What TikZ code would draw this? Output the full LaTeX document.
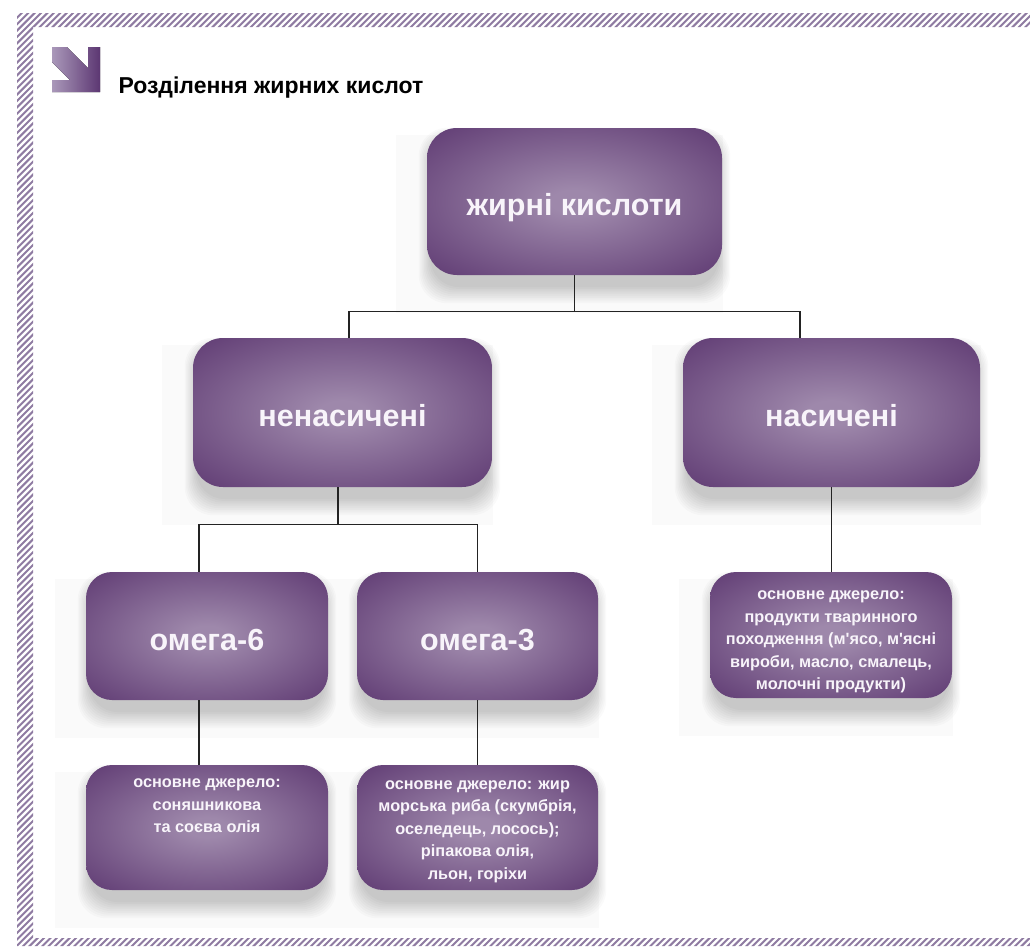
\documentclass[tikz,border=0pt]{standalone}
\usepackage{fontspec}
\setmainfont{Liberation Sans}[Ligatures=TeXOff]
\usetikzlibrary{calc}

\definecolor{boxin}{RGB}{158,136,171}
\definecolor{boxout}{RGB}{93,56,113}
\definecolor{hatchcol}{RGB}{143,123,162}
\definecolor{iconlight}{RGB}{170,152,186}
\definecolor{icondark}{RGB}{92,55,114}
\definecolor{linkcol}{RGB}{35,35,35}
\definecolor{boxtext}{RGB}{248,244,250}

% soft violet glow, light in the middle and dark towards the rim
\pgfdeclareradialshading{boxglow}{\pgfpoint{0bp}{0bp}}{%
  color(0bp)=(boxin); color(4bp)=(boxin); color(37bp)=(boxout); color(80bp)=(boxout)}

\pgfdeclarelayer{paper}
\pgfdeclarelayer{pale}
\pgfdeclarelayer{shade}
\pgfsetlayers{paper,pale,shade,main}

\tikzset{
  pbox/.style={rectangle, rounded corners=30pt, shading=boxglow,
    text=boxtext, align=center, inner sep=0pt},
  bigtext/.style={font=\bfseries\fontsize{30.5}{36}\selectfont, text height=34pt, text depth=6pt},
  smalltext/.style={font=\bfseries\fontsize{16.3}{22.5}\selectfont, text=boxtext, align=center},
  link/.style={draw=linkcol, line width=1.3pt},
  hatchline/.style={draw=hatchcol, line width=2pt},
}

% soft drop shadow and pale backdrop behind a box node
\newcommand\softshadow[1]{%
  \begin{pgfonlayer}{pale}
    \fill[black!2] ([shift={(-31,7)}]#1.north west) rectangle ([shift={(1,38)}]#1.south east);
  \end{pgfonlayer}
  \begin{pgfonlayer}{shade}
    \foreach \s in {1,...,10}{%
      \fill[black,opacity=0.019,rounded corners=28pt]
        ([shift={({-1.3*\s+5},{12-1.2*\s})}]#1.north west)
        rectangle ([shift={({1.3*\s-5},{10+1.8*\s})}]#1.south east);
    }
  \end{pgfonlayer}}

\begin{document}
\begin{tikzpicture}[x=1pt,y=-1pt]
\useasboundingbox (0,0) rectangle (1030,946);
\begin{pgfonlayer}{paper}
  \fill[white] (0,0) rectangle (1030,946);
\end{pgfonlayer}

% hatched frame
\begin{scope}
  \clip (17,13) rectangle (1030,27) (17,13) rectangle (33,946) (17,938) rectangle (1030,946);
  \foreach \a in {-960,-953.6,...,1040}{
    \draw[hatchline] (\a,950) -- ++(954,-954);
  }
\end{scope}

% heading with arrow mark
\fill[left color=iconlight, right color=icondark]
  (52,47) -- (67,47) -- (88,68) -- (88,47) -- (100,47) -- (100,92) -- (52,92)
  -- (52,80) -- (70,80) -- (52,62) -- cycle;
\node[anchor=base west, font=\bfseries\fontsize{23}{27}\selectfont] (title) at (115,93)
  {Розділення жирних кислот};

% boxes
\node[pbox, bigtext, minimum width=295pt, minimum height=147pt] (fa) at (574.5,201.5) {жирні кислоти};
\node[pbox, bigtext, minimum width=299pt, minimum height=149pt] (nen) at (342.5,412.5) {ненасичені};
\node[pbox, bigtext, minimum width=297pt, minimum height=149pt] (nas) at (831.5,412.5) {насичені};
\node[pbox, bigtext, rounded corners=26pt, minimum width=242pt, minimum height=128pt] (o6) at (207,636) {омега-6};
\node[pbox, bigtext, rounded corners=26pt, minimum width=241pt, minimum height=128pt] (o3) at (477.5,636) {омега-3};
\node[pbox, rounded corners=26pt, minimum width=242pt, minimum height=125pt] (s6) at (207,827.5) {};
\node[pbox, rounded corners=26pt, minimum width=241pt, minimum height=125pt] (s3) at (477.5,827.5) {};
\node[pbox, rounded corners=26pt, minimum width=242pt, minimum height=126pt] (sn) at (831,635) {};

% texts of the source boxes
\node[smalltext] (s6t) at (207,806)
  {основне джерело:\\соняшникова\\та соєва олія};
\node[smalltext] (s3t) at ($(s3.center)+(0,4)$)
  {основне джерело: жир\\морська риба (скумбрія,\\оселедець, лосось);\\ріпакова олія,\\льон, горіхи};
\node[smalltext] (snt) at ($(sn.center)+(0,7)$)
  {основне джерело:\\продукти тваринного\\походження (м'ясо, м'ясні\\вироби, масло, смалець,\\молочні продукти)};

\softshadow{fa}\softshadow{nen}\softshadow{nas}\softshadow{o6}
\softshadow{o3}\softshadow{s6}\softshadow{s3}\softshadow{sn}

% connectors
\draw[link] (fa.south) -- ($(fa.south)+(0,36)$) -| ($(nen.north)+(6.5,0)$);
\draw[link] ($(fa.south)+(0,36)$) -| ($(nas.north)+(-31.5,0)$);
\draw[link] ($(nen.south)+(-4.5,0)$) -- ($(nen.south)+(-4.5,37)$) -| ($(o6.north)+(-8,0)$);
\draw[link] ($(nen.south)+(-4.5,37)$) -| (o3.north);
\draw[link] ($(o6.south)+(-8,0)$) -- ($(s6.north)+(-8,0)$);
\draw[link] (o3.south) -- (s3.north);
\draw[link] (nas.south) -- (nas.south |- sn.north);
\end{tikzpicture}
\end{document}
